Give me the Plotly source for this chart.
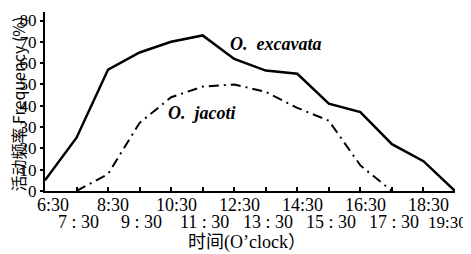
import plotly.graph_objects as go

hours = [6.5, 7.5, 8.5, 9.5, 10.5, 11.5, 12.5, 13.5, 14.5, 15.5, 16.5, 17.5, 18.5, 19.5]
tick_labels = ["6:30", "7 : 30", "8:30", "9 : 30", "10:30", "11 : 30", "12:30",
               "13 : 30", "14:30", "15 : 30", "16:30", "17 : 30", "18:30", "19:30"]
excavata = [5, 25, 57, 65, 70, 73, 62, 56.5, 55, 41, 37, 22, 14, 0]
jacoti_hours = [7.5, 8.5, 9.5, 10.5, 11.5, 12.5, 13.5, 14.5, 15.5, 16.5, 17.5]
jacoti = [0, 8, 32, 44, 49, 50, 46.5, 39, 33, 12, 0]
y_ticks = [0, 10, 20, 30, 40, 50, 60, 70, 80]

serif = "Liberation Serif"
cjk = "Noto Sans CJK SC"

fig = go.Figure()
fig.add_trace(go.Scatter(x=hours, y=excavata, mode="lines",
                         line=dict(color="black", width=2.5), showlegend=False))
fig.add_trace(go.Scatter(x=jacoti_hours, y=jacoti, mode="lines",
                         line=dict(color="black", width=2, dash="10px,5px,2px,5px"),
                         showlegend=False))

# two-row x tick labels
for i, (h, t) in enumerate(zip(hours, tick_labels)):
    row2 = (i % 2 == 1)
    xs = 5 if not row2 else 2
    size = 18
    if i == 0:
        xs = 8
    if i == len(hours) - 1:
        xs = -8
        row2 = True
        size = 17
    fig.add_annotation(x=h, y=0, yref="paper", text=t, showarrow=False,
                       xanchor="center", yanchor="middle", xshift=xs,
                       yshift=-14 if not row2 else -31,
                       font=dict(family=serif, size=size, color="black"))

fig.add_annotation(x=12.3, y=69, text="<b><i>O.\u00a0 excavata</i></b>", showarrow=False,
                   xanchor="left", yanchor="middle", font=dict(family=serif, size=18, color="black"))
fig.add_annotation(x=10.35, y=36.5, text="<b><i>O.\u00a0 jacoti</i></b>", showarrow=False,
                   xanchor="left", yanchor="middle", font=dict(family=serif, size=18, color="black"))
fig.add_annotation(x=0.493, y=0, xref="paper", yref="paper", yshift=-51,
                   text="时间(O’clock）", showarrow=False, xanchor="center", yanchor="middle",
                   font=dict(family=serif + ", " + cjk, size=18, color="black"))
fig.add_annotation(x=0, y=0.5, xref="paper", yref="paper", xshift=-28, yshift=-3,
                   text="活动频率 Frequency (%)", textangle=-90, showarrow=False,
                   xanchor="center", yanchor="middle",
                   font=dict(family=cjk + ", " + serif, size=16, color="black"))

# the page body keeps an 8px default margin, so the figure is sized to fit the window
fig.update_layout(
    width=463, height=246,
    margin=dict(l=37, r=16, t=4, b=63),
    paper_bgcolor="white", plot_bgcolor="white",
    font=dict(family=serif, color="black"),
    xaxis=dict(range=[6.5, 19.5], tickvals=hours, showticklabels=False, automargin=False,
               ticks="inside", ticklen=4, tickwidth=1.5, tickcolor="black",
               showline=True, linecolor="black", linewidth=2, showgrid=False,
               zeroline=False),
    yaxis=dict(range=[0, 84], tickvals=y_ticks, automargin=False,
               ticks="outside", ticklen=3, tickwidth=1.5, tickcolor="black",
               showline=True, linecolor="black", linewidth=2, showgrid=False,
               zeroline=False, tickfont=dict(family=serif, size=17, color="black")),
)

fig.write_html("out.html")
